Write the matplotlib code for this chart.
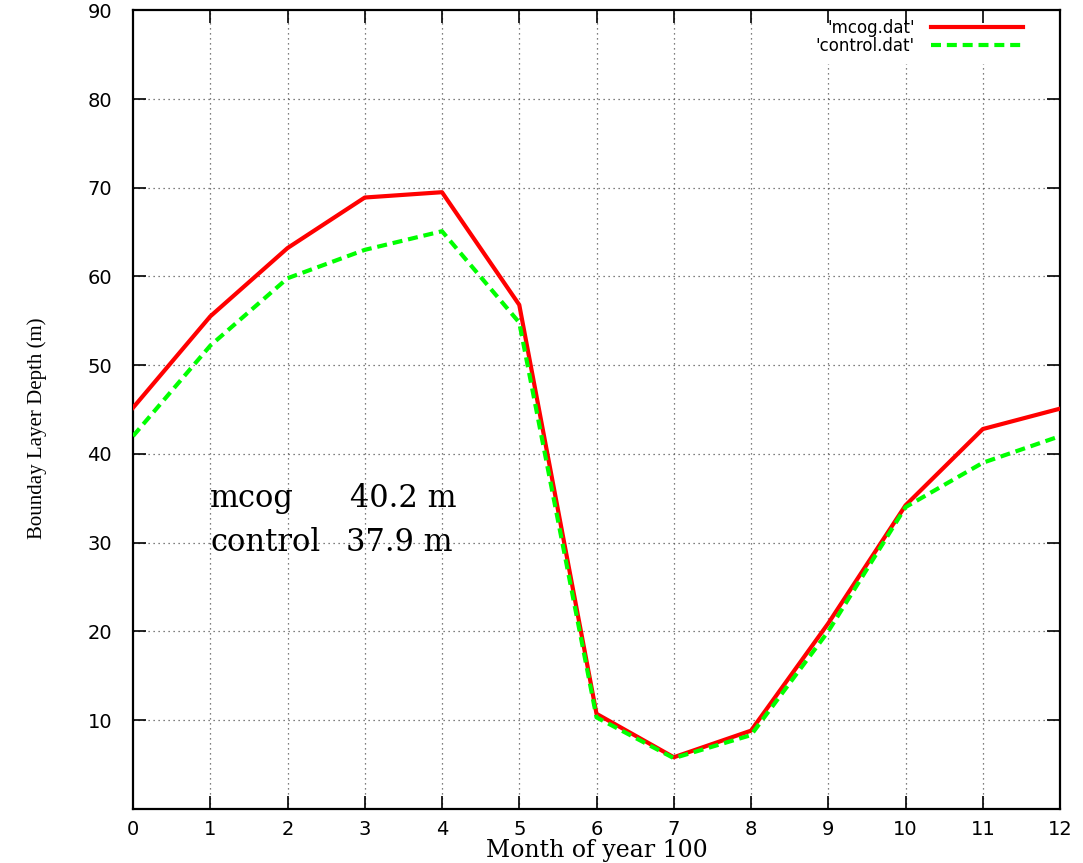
import numpy as np
import matplotlib.pyplot as plt

# monthly boundary layer depth (m), month 0..12 of year 100
months = np.arange(0, 13)
mcog = [45.2, 55.5, 63.2, 68.9, 69.5, 56.8, 10.7, 5.8, 8.8, 20.9, 34.2, 42.8, 45.1]
control = [42.0, 52.2, 59.8, 63.0, 65.1, 54.8, 10.3, 5.7, 8.3, 20.0, 34.0, 39.0, 42.0]

xticks = list(range(0, 13))
yticks = list(range(10, 100, 10))

fig = plt.figure(figsize=(10.83, 8.63), dpi=100)
ax = fig.add_axes([0.1228, 0.0629, 0.8560, 0.9251])

ax.plot(months, mcog, color='#ff0000', lw=3.0, label="'mcog.dat'", zorder=3)
ax.plot(months, control, color='#00ff00', lw=3.0, ls=(0, (2.4, 1.4)),
        label="'control.dat'", zorder=3)

ax.set_xlim(0, 12)
ax.set_ylim(0, 90)
ax.set_xticks(xticks)
ax.set_yticks(yticks)
ax.tick_params(direction='in', length=9.5, width=1.2, top=True, right=True,
               labelsize=14)
ax.tick_params(axis='x', pad=8)
ax.tick_params(axis='y', pad=15)
for lab in ax.get_xticklabels() + ax.get_yticklabels():
    lab.set_fontfamily('DejaVu Sans')

# gnuplot-like dotted grid, kept under the key box but not over the ticks
grid_style = dict(color='#555555', ls=(0, (1, 3)), lw=0.9, zorder=1)
for x in xticks[1:-1]:
    ax.axvline(x, **grid_style)
for y in yticks[:-1]:
    ax.axhline(y, **grid_style)
for s in ax.spines.values():
    s.set_linewidth(1.6)

ax.set_xlabel('Month of year 100', family='DejaVu Serif', fontsize=17)
ax.xaxis.label.set_va('baseline')
ax.xaxis.set_label_coords(0.5, -0.0605)
ax.set_ylabel('Bounday Layer Depth (m)', family='Liberation Serif', fontsize=15)
ax.yaxis.set_label_coords(-0.093, 0.477)

txt = dict(family='DejaVu Serif', fontsize=22, va='center')
ax.text(1.0, 35.0, 'mcog', **txt)
ax.text(2.81, 35.0, '40.2 m', **txt)
ax.text(1.0, 30.0, 'control', **txt)
ax.text(2.76, 30.0, '37.9 m', **txt)

leg = ax.legend(loc='upper right', bbox_to_anchor=(0.969, 1.0), markerfirst=False,
                frameon=True, framealpha=1, edgecolor='white', fancybox=False,
                handlelength=5.5, handletextpad=1.0,
                prop={'family': 'DejaVu Sans', 'size': 12},
                labelspacing=0.0, borderaxespad=0, borderpad=0.5)
leg.set_zorder(1.2)
for t in leg.get_texts():
    t.set_ha('right')

plt.savefig('out.png', dpi=100)
